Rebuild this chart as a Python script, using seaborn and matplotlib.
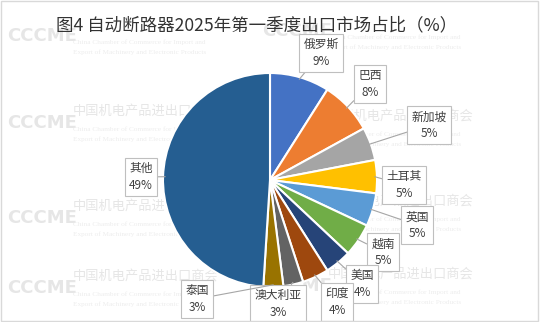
import matplotlib
matplotlib.use("Agg")
import matplotlib.pyplot as plt
import seaborn as sns
import numpy as np
from matplotlib.patches import Rectangle

# ---- data ----
countries = ["俄罗斯", "巴西", "新加坡", "土耳其", "英国", "越南", "美国", "印度", "澳大利亚", "泰国", "其他"]
shares = [9, 8, 5, 5, 5, 5, 4, 4, 3, 3, 49]
colors = ["#4472C4", "#ED7D31", "#A5A5A5", "#FFC000", "#5B9BD5", "#70AD47",
          "#264478", "#9E480E", "#636363", "#997300", "#255E91"]
title = "图4 自动断路器2025年第一季度出口市场占比（%）"
wm_cn = "中国机电产品进出口商会"
wm_en1 = "China Chamber of Commerce for Import and"
wm_en2 = "Export of Machinery and Electronic Products"

# label box positions (pie radius = 1 units)
label_pos = [(0.477, 1.187), (0.935, 0.897), (1.486, 0.514), (1.252, -0.047),
             (1.374, -0.421), (1.056, -0.673), (0.86, -0.972), (0.626, -1.14),
             (0.075, -1.159), (-0.682, -1.112), (-1.206, 0.028)]

sns.set_theme(style="white")
plt.rcParams["font.family"] = ["Noto Sans CJK SC", "DejaVu Sans"]

W, H = 540, 322
fig = plt.figure(figsize=(W / 100, H / 100), dpi=100)
ax = fig.add_axes([0, 0, 1, 1])

R = 107.0
cx, cy = 270.0, 180.0

def px2d(px, py):
    return ((px - cx) / R, (cy - py) / R)

# ---- faint watermark ----
wm_c = "#E6E6E6"
wm_c2 = "#EDEDED"
serif = ["Liberation Serif", "DejaVu Serif"]
wm_rows = [(7, 25, False), (7, 112, True), (7, 207, True), (7, 277, True),
           (262, 20, False), (262, 117, True), (262, 202, True), (262, 275, True)]
for (lx, ly, show_cn) in wm_rows:
    x0, y0 = px2d(lx, ly + 11)
    ax.text(x0, y0, "CCCME", fontsize=13, fontweight="bold", color=wm_c, ha="left", va="center",
            family=["Liberation Sans Narrow", "DejaVu Sans"], zorder=0)
    if show_cn:
        tx, ty = px2d(lx + 66, ly)
        ax.text(tx, ty, wm_cn, fontsize=9.5, color=wm_c, ha="left", va="center", zorder=0)
    ex, ey = px2d(lx + 66, ly + 17)
    ax.text(ex, ey, wm_en1, fontsize=5.2, color=wm_c2, ha="left", va="center", family=serif, zorder=0)
    ex, ey = px2d(lx + 66, ly + 27)
    ax.text(ex, ey, wm_en2, fontsize=5.2, color=wm_c2, ha="left", va="center", family=serif, zorder=0)

wedges, _ = ax.pie(shares, colors=sns.color_palette(colors), startangle=90, counterclock=False,
                   radius=1.0, center=(0, 0),
                   wedgeprops=dict(edgecolor="white", linewidth=1.5))
for w in wedges:
    w.set_zorder(2)

for w, name, val, (lx, ly) in zip(wedges, countries, shares, label_pos):
    mid = np.deg2rad((w.theta1 + w.theta2) / 2)
    ex, ey = np.cos(mid) * 0.98, np.sin(mid) * 0.98
    ax.annotate(f"{name}\n{val}%", xy=(ex, ey), xytext=(lx, ly),
                ha="center", va="center", fontsize=8.5, color="#404040", linespacing=1.35,
                bbox=dict(boxstyle="square,pad=0.35", fc="white", ec="#BFBFBF", lw=0.8),
                arrowprops=dict(arrowstyle="-", color="#A6A6A6", lw=0.8, shrinkA=0, shrinkB=0),
                zorder=5)

tx, ty = px2d(257, 25)
ax.text(tx, ty, title, fontsize=12.6, color="#333333", ha="center", va="center", zorder=6)

ax.set_xlim(-cx / R, (W - cx) / R)
ax.set_ylim(-(H - cy) / R, cy / R)
ax.set_aspect("auto")
ax.axis("off")

fig.patches.append(Rectangle((0.002, 0.003), 0.995, 0.993, transform=fig.transFigure,
                             fill=False, ec="#D9D9D9", lw=1.0))

fig.savefig("out.png", dpi=100, facecolor="white")
